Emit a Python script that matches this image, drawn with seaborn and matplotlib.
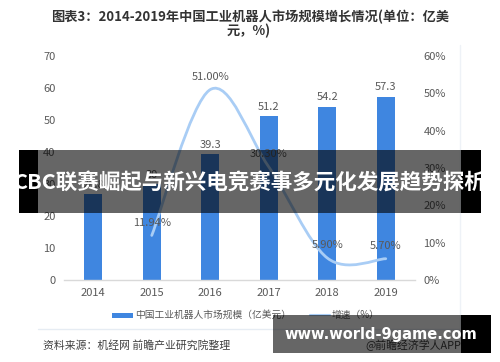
import matplotlib
matplotlib.use("Agg")
import matplotlib.pyplot as plt
import seaborn as sns
import pandas as pd
import numpy as np
from matplotlib.path import Path
from matplotlib.patches import PathPatch, Rectangle
from matplotlib.lines import Line2D

# ---------------- data ----------------
years = ["2014", "2015", "2016", "2017", "2018", "2019"]
market_size = [26.8, 30.0, 39.3, 51.2, 54.2, 57.3]
growth_years = ["2015", "2016", "2017", "2018", "2019"]
growth_rate = [11.94, 51.00, 30.30, 5.90, 5.70]
left_ticks = [0, 10, 20, 30, 40, 50, 60, 70]
right_ticks = [0, 10, 20, 30, 40, 50, 60]
title_lines = ["图表3：2014-2019年中国工业机器人市场规模增长情况(单位：亿美", "元，%)"]
legend_bar = "中国工业机器人市场规模（亿美元）"
legend_line = "增速（%）"
source_text = "资料来源：机经网 前瞻产业研究院整理"
credit_text = "@前瞻经济学人APP"
banner_text = "CBC联赛崛起与新兴电竞赛事多元化发展趋势探析"
watermark_text = "www.world-9game.com"

# ---------------- style ----------------
sns.set_style("white")
plt.rcParams['font.family'] = ['Noto Sans CJK SC', 'DejaVu Sans']

W, H = 500, 362
fig = plt.figure(figsize=(W / 100, H / 100), dpi=100)
fig.patch.set_facecolor("white")


def fx(px):
    return px / W


def fy(py):
    return 1 - py / H


BAR_C = "#3f86e0"
LINE_C = "#a9cdf5"
TXT_C = "#595959"

ax = fig.add_axes([fx(64), fy(280), (415 - 64) / W, (280 - 56) / H])
df = pd.DataFrame({"year": years, "size": market_size})
sns.barplot(data=df, x="year", y="size", order=years, color=BAR_C,
            saturation=1, width=0.31, linewidth=0, ax=ax)
ax.set_xlim(-0.5, 5.5)
ax.set_ylim(0, 70)
ax.set_yticks(left_ticks)
ax.set_xlabel("")
ax.set_ylabel("")
ax.tick_params(axis="both", length=0, labelsize=8, labelcolor=TXT_C, pad=6)
for s in ["left", "right", "top"]:
    ax.spines[s].set_visible(False)
ax.spines["bottom"].set_color("#d9d9d9")
ax.spines["bottom"].set_linewidth(1)

for i, v in enumerate(market_size):
    ax.annotate(f"{v:g}", (i, v), xytext=(0, 3), textcoords="offset points",
                ha="center", va="bottom", fontsize=8, color=TXT_C)

ax2 = ax.twinx()
ax2.set_ylim(0, 60)
ax2.set_yticks(right_ticks)
ax2.set_yticklabels([f"{t}%" for t in right_ticks])
ax2.tick_params(axis="y", length=0, labelsize=8, labelcolor=TXT_C, pad=6)
for s in ["left", "right", "top", "bottom"]:
    ax2.spines[s].set_visible(False)

# smooth growth curve (Catmull-Rom style bezier through the data points)
gx = [years.index(y) for y in growth_years]
pts = np.array(list(zip(gx, growth_rate)), dtype=float)
n = len(pts)
verts = [tuple(pts[0])]
codes = [Path.MOVETO]
for i in range(n - 1):
    p0 = pts[i - 1] if i > 0 else pts[i]
    p1 = pts[i]
    p2 = pts[i + 1]
    p3 = pts[i + 2] if i + 2 < n else pts[i + 1]
    c1 = p1 + (p2 - p0) / 6.0
    c2 = p2 - (p3 - p1) / 6.0
    verts += [tuple(c1), tuple(c2), tuple(p2)]
    codes += [Path.CURVE4] * 3
ax2.add_patch(PathPatch(Path(verts, codes), facecolor="none", edgecolor=LINE_C,
                        lw=2, transform=ax2.transData, capstyle="round"))

for x, v in zip(gx, growth_rate):
    ax2.annotate(f"{v:.2f}%", (x, v), xytext=(0, 9), textcoords="offset points",
                 ha="center", va="center", fontsize=8, color=TXT_C)

# ---------------- title ----------------
fig.text(0.5, fy(17), title_lines[0], ha="center", va="center",
         fontsize=9.5, fontweight="bold", color="#333333")
fig.text(0.497, fy(31), title_lines[1], ha="center", va="center",
         fontsize=9.5, fontweight="bold", color="#333333")

# ---------------- legend ----------------
fig.patches.append(Rectangle((fx(112), fy(318)), 21 / W, 5 / H, transform=fig.transFigure,
                             facecolor=BAR_C, edgecolor="none"))
fig.text(fx(135), fy(315), legend_bar, ha="left", va="center", fontsize=7, color=TXT_C)
fig.lines.append(Line2D([fx(310), fx(330)], [fy(315), fy(315)], transform=fig.transFigure,
                        color=LINE_C, lw=1.5))
fig.text(fx(332), fy(315), legend_line, ha="left", va="center", fontsize=7, color=TXT_C)

# frame lines
fig.lines.append(Line2D([fx(38), fx(460)], [fy(329), fy(329)], transform=fig.transFigure,
                        color="#e6ecf3", lw=1))
fig.lines.append(Line2D([fx(460), fx(460)], [fy(45), fy(329)], transform=fig.transFigure,
                        color="#eef2f7", lw=1))

# ---------------- source ----------------
fig.text(fx(43), fy(345), source_text, ha="left", va="center", fontsize=7.8, color="#404040")
fig.text(fx(365), fy(345), credit_text, ha="left", va="center", fontsize=7.8, color="#404040")

# ---------------- banner overlay ----------------
def rect(x0, y0, x1, y1, color, alpha=1.0):
    fig.patches.append(Rectangle((fx(x0), fy(y1)), (x1 - x0) / W, (y1 - y0) / H,
                                 transform=fig.transFigure, facecolor=color,
                                 edgecolor="none", alpha=alpha, zorder=10))

rect(19, 150, 38, 213, "black")
rect(38, 150, 461, 213, "black", 0.6)
rect(461, 150, 481, 213, "black")
fig.text(fx(250), fy(182), banner_text, ha="center", va="center", fontsize=15.5,
         fontweight="bold", color="white", zorder=11)

rect(273, 315, 461, 353, "black", 0.6)
rect(461, 315, 491, 353, "black")
fig.text(fx(381), fy(335), watermark_text, ha="center", va="center", fontsize=10.5,
         fontweight="bold", color="white", family=["DejaVu Sans"], zorder=11)

fig.savefig("out.png", dpi=100)
